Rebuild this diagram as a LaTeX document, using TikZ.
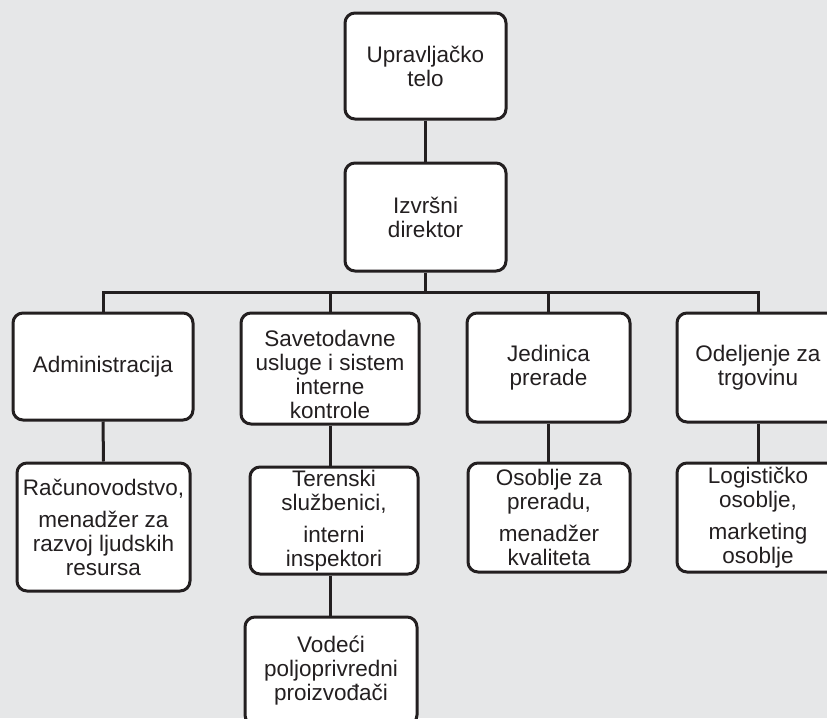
\documentclass[tikz,border=0pt]{standalone}
\usepackage{fontspec}
\setmainfont{Liberation Sans}
\definecolor{bg}{HTML}{E6E7E8}
\definecolor{ink}{HTML}{231F20}
\begin{document}
\begin{tikzpicture}[x=1pt,y=-1pt,
  box/.style={draw=ink,line width=3pt,rounded corners=10pt,fill=white,
    align=center,inner sep=0pt,font=\fontsize{22.5}{24}\selectfont,text=ink},
  txt/.style={align=center,inner sep=0pt,font=\fontsize{22.5}{24}\selectfont,text=ink},
  conn/.style={draw=ink,line width=3pt}]
\useasboundingbox (0,0) rectangle (827,718);
\clip (0,0) rectangle (827,718);
\fill[bg] (0,0) rectangle (827,718);
\coordinate (bus) at (0,292);
\node[box,minimum width=161pt,minimum height=106pt] (up) at (425.5,66) {Upravljačko\\telo};
\node[box,minimum width=161pt,minimum height=108pt] (iz) at (425.5,217) {Izvršni\\direktor};
\node[box,minimum width=180pt,minimum height=107pt] (adm) at (103,366.5) {Administracija};
\node[box,minimum width=178pt,minimum height=111pt] (sav) at (330,368.5) {};
\node[txt] (savt) at (330,374) {Savetodavne\\usluge i sistem\\interne\\kontrole};
\node[box,minimum width=163pt,minimum height=109pt] (jed) at (548.5,367.5) {Jedinica\\prerade};
\node[box,minimum width=162pt,minimum height=109pt] (ode) at (758,367.5) {Odeljenje za\\trgovinu};
\node[box,minimum width=173pt,minimum height=128pt] (rac) at (103.5,527) {Računovodstvo,\\[8pt] menadžer za\\razvoj ljudskih\\resursa};
\node[box,minimum width=168pt,minimum height=107pt] (ter) at (334,520.5) {Terenski\\službenici,\\[8pt]interni\\inspektori};
\node[box,minimum width=172pt,minimum height=108pt] (vod) at (331,671) {Vodeći\\poljoprivredni\\proizvođači};
\node[box,minimum width=162pt,minimum height=109pt] (oso) at (549,517.5) {Osoblje za\\preradu,\\[8pt]menadžer\\kvaliteta};
\node[box,minimum width=162pt,minimum height=109pt] (log) at (758,517.5) {Logističko\\osoblje,\\[8pt]marketing\\osoblje};
\draw[conn] (up.south) -- (iz.north);
\draw[conn] (iz.south) -- (iz.south |- bus);
\draw[conn,line join=miter] (adm.north) |- (bus -| ode.north) -- (ode.north);
\draw[conn] (sav.north) -- (sav.north |- bus);
\draw[conn] (jed.north) -- (jed.north |- bus);
\draw[conn] (adm.south) -- (rac.north);
\draw[conn] (sav.south) -- (sav.south |- ter.north);
\draw[conn] (ter.south -| sav.south) -- (sav.south |- vod.north);
\draw[conn] (jed.south) -- (jed.south |- oso.north);
\draw[conn] (ode.south) -- (log.north);
\end{tikzpicture}
\end{document}
